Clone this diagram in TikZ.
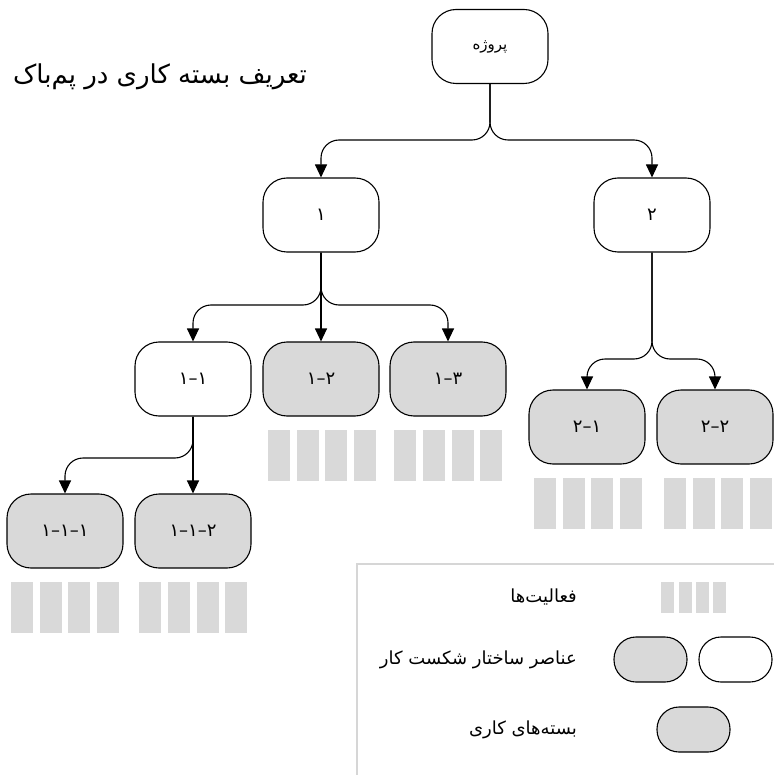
\documentclass[tikz,border=0pt]{standalone}
\usepackage{fontspec}
\newfontfamily\fa[Script=Arabic]{DejaVu Sans}
\TeXXeTstate=1
\usetikzlibrary{arrows.meta}
\definecolor{boxgray}{HTML}{D9D9D9}
\definecolor{legline}{HTML}{D6D6D6}
\begin{document}
\begin{tikzpicture}[x=1pt,y=-1pt,
  wbs/.style={draw, line width=1.1pt, rounded corners=24pt, minimum width=116pt,
    minimum height=74pt, inner sep=0pt, font=\fa\fontsize{18}{20}\selectfont},
  pkg/.style={wbs, fill=boxgray},
  conn/.style={line width=1.1pt, rounded corners=18pt, -{Triangle[width=12pt,length=13pt]}},
  stadium/.style={draw, line width=1.1pt, rounded corners=22pt, minimum width=73pt,
    minimum height=45pt, inner sep=0pt},
  legtext/.style={anchor=east, inner sep=0pt, font=\fa\fontsize{18}{20}\selectfont},
  barfill/.style={fill=boxgray}]
\useasboundingbox (0,0) rectangle (773,775);

% title
\node[font=\fa\fontsize{26}{30}\selectfont, inner sep=0pt] (title) at (160,77) {\beginR تعریف بسته کاری در پم‌باک\endR};

% nodes (digit labels are typed in reverse: the font sets them right to left)
\node[wbs, font=\fa\fontsize{15}{17}\selectfont] (root) at (490,46.5) {\beginR پروژه\endR};
\node[wbs] (n1) at (321,215) {۱};
\node[wbs] (n2) at (652,215) {۲};
\node[wbs] (n11) at (193,379) {۱–۱};
\node[pkg] (n12) at (321,379) {۲–۱};
\node[pkg] (n13) at (448,379) {۳–۱};
\node[pkg] (n111) at (65,531) {۱–۱–۱};
\node[pkg] (n112) at (193,531) {۲–۱–۱};
\node[pkg] (n21) at (587,427) {۱–۲};
\node[pkg] (n22) at (715,427) {۲–۲};

% junction levels
\coordinate (j0) at (0,140);
\coordinate (j1) at (0,305);
\coordinate (j11) at (0,458);
\coordinate (j2) at (0,359);

% connectors
\draw[conn] (root.south) |- (n1.north |- j0) -- (n1.north);
\draw[conn] (root.south) |- (n2.north |- j0) -- (n2.north);
\draw[conn] (n1.south) |- (n11.north |- j1) -- (n11.north);
\draw[conn] (n1.south) -- (n12.north);
\draw[conn] (n1.south) |- (n13.north |- j1) -- (n13.north);
\draw[conn] (n11.south) |- (n111.north |- j11) -- (n111.north);
\draw[conn] (n11.south) -- (n112.north);
\draw[conn] (n2.south) |- (n21.north |- j2) -- (n21.north);
\draw[conn] (n2.south) |- (n22.north |- j2) -- (n22.north);

% activity bars
\foreach \x in {268,296.5,325,353.5, 394,423,452,480} {\fill[barfill] (\x,430) rectangle +(22,51);}
\foreach \x in {11,40,68,97, 139,168,197,225} {\fill[barfill] (\x,582) rectangle +(22,51);}
\foreach \x in {534,562.5,591,620, 664,693,721,750} {\fill[barfill] (\x,478) rectangle +(22,51);}

% legend
\draw[legline, line width=1.2pt] (357,780) -- (357,564) -- (780,564);
\foreach \x in {661,678.5,696,713} {\fill[barfill] (\x,582) rectangle +(13,31);}
\node[legtext] (l1) at (577,597) {\beginR فعالیت‌ها\endR};
\node[stadium, fill=boxgray] (lg1) at (650.5,659.5) {};
\node[stadium] (lw1) at (735.5,659.5) {};
\node[legtext] (l2) at (577,660) {\beginR عناصر ساختار شکست کار\endR};
\node[stadium, fill=boxgray] (lg2) at (693.5,729.5) {};
\node[legtext] (l3) at (577,730) {\beginR بسته‌های کاری\endR};
\end{tikzpicture}
\end{document}
